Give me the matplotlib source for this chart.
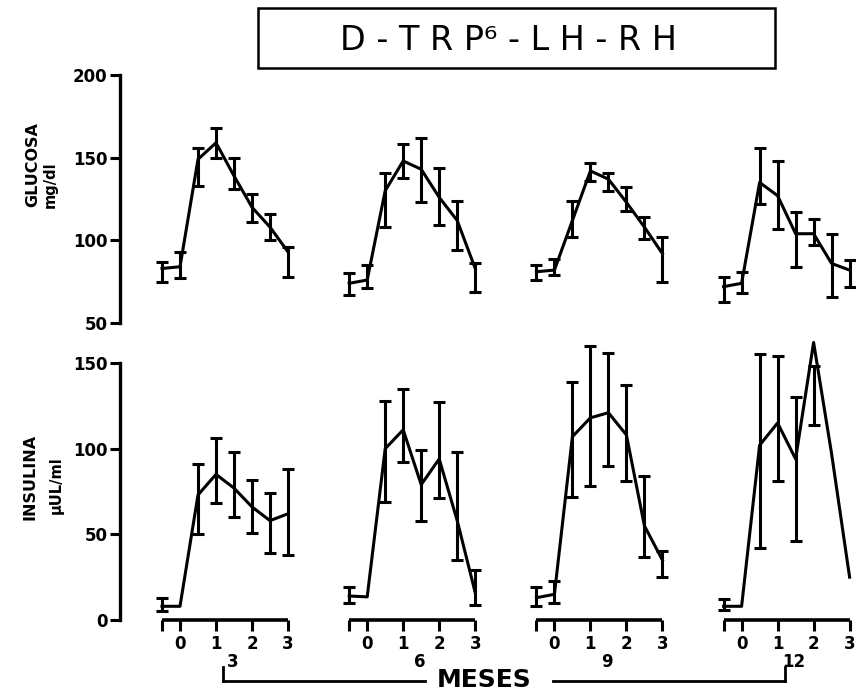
import numpy as np
import matplotlib
matplotlib.use("Agg")
import matplotlib.pyplot as plt
from matplotlib.patches import Rectangle
from matplotlib.lines import Line2D
import matplotlib.transforms as mtransforms

# ---------------- data ----------------
hours = [-0.5, 0, 0.5, 1, 1.5, 2, 2.5, 3]
months = ["3", "6", "9", "12"]
hour_ticks = [-0.5, 0, 1, 2, 3]
hour_labels = ["", "0", "1", "2", "3"]

gluc_mean_3 = [83, 84, 149, 159, 139, 120, 108, 93]
gluc_lo_3 = [75, 77, 133, 150, 131, 111, 100, 78]
gluc_hi_3 = [87, 93, 156, 168, 150, 128, 116, 96]

gluc_mean_6 = [74, 76, 130, 148, 143, 126, 112, 83]
gluc_lo_6 = [67, 71, 108, 138, 123, 109, 94, 69]
gluc_hi_6 = [80, 85, 141, 158, 162, 144, 124, 86]

gluc_mean_9 = [81, 82, 112, 142, 137, 123, 108, 92]
gluc_lo_9 = [76, 79, 102, 136, 130, 118, 101, 75]
gluc_hi_9 = [85, 89, 124, 147, 141, 132, 114, 102]

gluc_mean_12 = [72, 74, 135, 127, 104, 104, 86, 82]
gluc_lo_12 = [63, 68, 122, 107, 84, 97, 66, 72]
gluc_hi_12 = [78, 81, 156, 148, 117, 113, 104, 88]

ins_mean_3 = [8, 8, 73, 85, 77, 66, 58, 62]
ins_lo_3 = [5, np.nan, 50, 68, 60, 51, 39, 38]
ins_hi_3 = [13, np.nan, 91, 106, 98, 82, 74, 88]

ins_mean_6 = [14, 13.5, 100, 111, 79, 94, 58, 16]
ins_lo_6 = [10, np.nan, 69, 92, 58, 71, 35, 9]
ins_hi_6 = [19, np.nan, 128, 135, 99, 127, 98, 29]

ins_mean_9 = [13, 15, 107, 118, 121, 108, 55, 35]
ins_lo_9 = [8, 10, 72, 78, 90, 81, 37, 25]
ins_hi_9 = [19, 23, 139, 160, 156, 137, 84, 40]

ins_mean_12 = [8, 8, 102, 115, 94, 162, 97, 25]
ins_lo_12 = [6, np.nan, 42, 81, 46, 114, np.nan, np.nan]
ins_hi_12 = [12, np.nan, 155, 154, 130, 148, np.nan, np.nan]

gluc_means = [gluc_mean_3, gluc_mean_6, gluc_mean_9, gluc_mean_12]
gluc_los = [gluc_lo_3, gluc_lo_6, gluc_lo_9, gluc_lo_12]
gluc_his = [gluc_hi_3, gluc_hi_6, gluc_hi_9, gluc_hi_12]
ins_means = [ins_mean_3, ins_mean_6, ins_mean_9, ins_mean_12]
ins_los = [ins_lo_3, ins_lo_6, ins_lo_9, ins_lo_12]
ins_his = [ins_hi_3, ins_hi_6, ins_hi_9, ins_hi_12]

GROUP_SHIFT = 5.2  # horizontal offset between month groups (in hours)

# ---------------- figure ----------------
W, H = 856, 696
fig = plt.figure(figsize=(W / 100, H / 100), dpi=100)
fig.patch.set_facecolor("white")


def fx(px):
    return px / W


def fy(py):
    return 1 - py / H


xmin = -60 / 36.0
xmax = xmin + 736 / 36.0

ax_g = fig.add_axes([fx(120), fy(323), fx(856) - fx(120), fy(75) - fy(323)])
ax_i = fig.add_axes([fx(120), fy(620), fx(856) - fx(120), fy(363) - fy(620)])

LW = 2.2


def draw_panel(ax, means, los, his):
    for g in range(len(months)):
        x = np.array(hours) + g * GROUP_SHIFT
        m = np.array(means[g], dtype=float)
        lo = np.array(los[g], dtype=float)
        hi = np.array(his[g], dtype=float)
        ax.plot(x, m, color="black", lw=LW, solid_joinstyle="round",
                zorder=3, clip_on=False)
        ok = ~np.isnan(lo)
        mid = (lo[ok] + hi[ok]) / 2
        half = (hi[ok] - lo[ok]) / 2
        cont = ax.errorbar(x[ok], mid, yerr=half, fmt="none", ecolor="black",
                           elinewidth=LW, capsize=4.5, capthick=2.2, zorder=3)
        for art in cont.get_children():
            art.set_clip_on(False)


draw_panel(ax_g, gluc_means, gluc_los, gluc_his)
draw_panel(ax_i, ins_means, ins_los, ins_his)

ax_g.set_ylim(50, 200)
ax_i.set_ylim(0, 150)
ax_g.set_yticks([50, 100, 150, 200])
ax_i.set_yticks([0, 50, 100, 150])

for ax in (ax_g, ax_i):
    ax.set_xlim(xmin, xmax)
    ax.patch.set_alpha(0)
    for s in ("top", "right", "bottom"):
        ax.spines[s].set_visible(False)
    ax.spines["left"].set_linewidth(2.4)
    ax.tick_params(axis="y", direction="out", length=7, width=2.2, pad=2,
                   labelsize=12)
    for lab in ax.get_yticklabels():
        lab.set_fontweight("bold")

ax_g.set_xticks([])

# bottom axis: one segment per month group
xt, xl = [], []
for g in range(len(months)):
    sh = g * GROUP_SHIFT
    ax_i.plot([hours[0] + sh, hours[-1] + sh], [0, 0], color="black", lw=2.6,
              clip_on=False, solid_capstyle="butt", zorder=4)
    xt += [t + sh for t in hour_ticks]
    xl += hour_labels
ax_i.set_xticks(xt)
ax_i.set_xticklabels(xl, fontsize=12, fontweight="bold")
ax_i.tick_params(axis="x", direction="out", length=8, width=2.2, pad=3)

# month labels + bracket
bt = mtransforms.blended_transform_factory(ax_i.transData, fig.transFigure)
for g, mlab in enumerate(months):
    ax_i.text(g * GROUP_SHIFT + 1.45, fy(662), mlab, transform=bt,
              ha="center", va="center", fontsize=12, fontweight="bold")

x_left = 1.2
x_right = 3 * GROUP_SHIFT + 1.2
y_line = fy(681)
y_top = fy(667)
for xs, ys in (([x_left, x_left], [y_top, y_line]),
               ([x_left, 6.8], [y_line, y_line]),
               ([10.35, x_right], [y_line, y_line]),
               ([x_right, x_right], [y_line, y_top])):
    fig.add_artist(Line2D(xs, ys, transform=bt, color="black", lw=2.0))
ax_i.text(8.45, fy(680), "MESES", transform=bt, ha="center", va="center",
          fontsize=18, fontweight="heavy")

# y-axis titles
fig.text(fx(33), fy(165), "GLUCOSA", rotation=90, ha="center", va="center",
         fontsize=11.5, fontweight="bold")
fig.text(fx(50), fy(185), "mg/dl", rotation=90, ha="center", va="center",
         fontsize=10.5, fontweight="bold")
fig.text(fx(30), fy(477), "INSULINA", rotation=90, ha="center", va="center",
         fontsize=11.5, fontweight="bold")
fig.text(fx(56), fy(485), "\u03bcUL/ml", rotation=90, ha="center", va="center",
         fontsize=10.5, fontweight="bold")

# title box
fig.add_artist(Rectangle((fx(258), fy(68)), fx(775) - fx(258), fy(8) - fy(68),
                         transform=fig.transFigure, fill=False,
                         edgecolor="black", lw=1.8))
fig.text(fx(508), fy(40), "D - T R P\u2076 - L H - R H", ha="center",
         va="center", fontsize=24)

fig.savefig("out.png", dpi=100, facecolor="white")
